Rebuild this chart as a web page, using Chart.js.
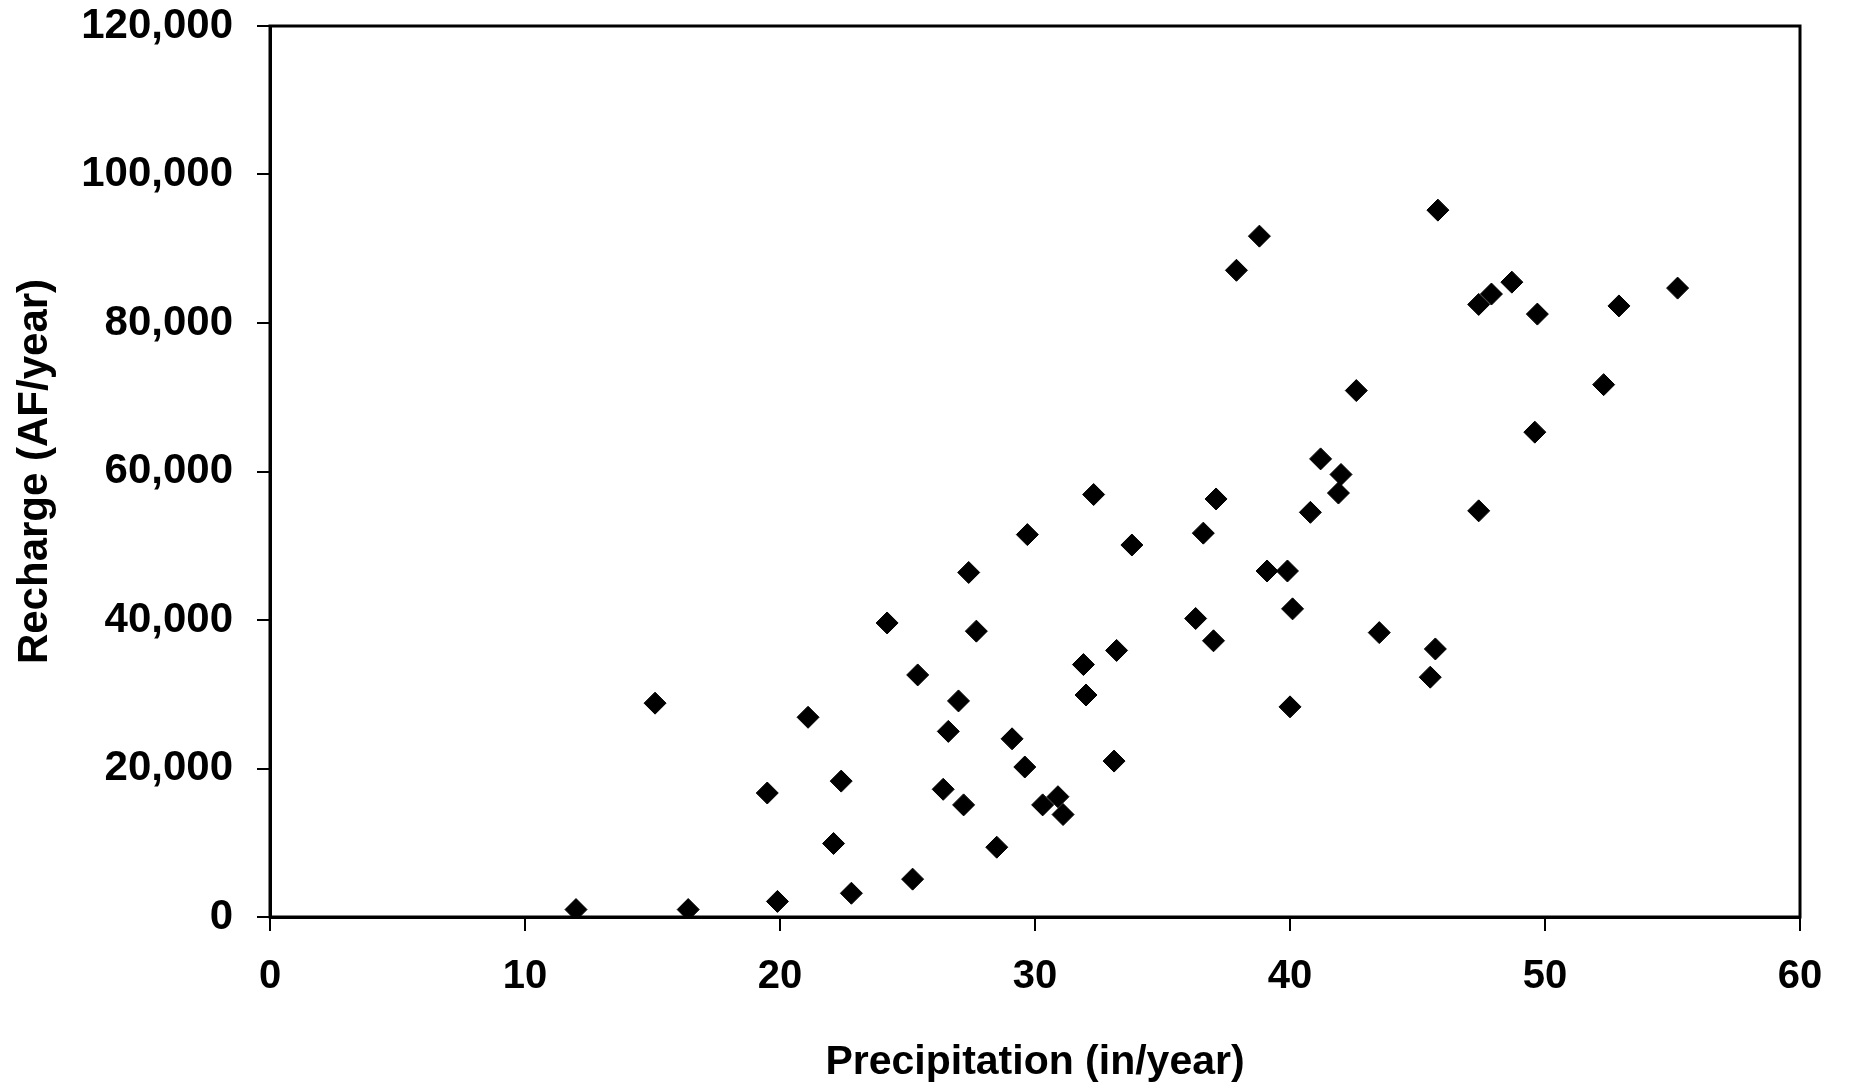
<!DOCTYPE html>
<html lang="en">
<head>
    <meta charset="UTF-8">
    <title>Recharge vs Precipitation</title>
    <script src="https://cdn.jsdelivr.net/npm/chart.js"></script>
    <style>
        html, body { margin: 0; padding: 0; background: #fff; }
        .chart { width: 1850px; height: 1091px; }
    </style>
</head>
<body>
    <div class="chart">
        <canvas id="chart1"></canvas>
    </div>

    <script>
        // precipitation (in/year) and recharge (AF/year)
        const precipitation = [
            12.0, 16.4, 19.9, 15.1, 19.5, 21.1, 22.1, 22.4, 22.8, 24.2,
            25.2, 25.4, 26.4, 26.6, 27.0, 27.2, 27.4, 27.7, 28.5, 29.1,
            29.6, 29.7, 30.3, 30.9, 31.1, 31.9, 32.0, 32.3, 33.1, 33.2,
            33.8, 36.3, 36.6, 37.0, 37.1, 37.9, 38.8, 39.1, 39.9, 40.0,
            40.1, 40.8, 41.2, 41.9, 42.0, 42.6, 43.5, 45.5, 45.7, 45.8,
            47.4, 47.4, 47.9, 48.7, 49.7, 49.6, 52.3, 52.9, 55.2
        ];
        const recharge = [
            1000, 1000, 2100, 28800, 16700, 26900, 9900, 18300, 3200, 39600,
            5100, 32600, 17200, 25000, 29100, 15100, 46400, 38500, 9400, 24000,
            20200, 51500, 15100, 16200, 13800, 34000, 29900, 56900, 21000, 35900,
            50100, 40200, 51700, 37200, 56300, 87100, 91700, 46600, 46600, 28300,
            41500, 54500, 61700, 57100, 59600, 70900, 38300, 32300, 36100, 95200,
            54700, 82500, 83900, 85500, 81200, 65300, 71700, 82300, 84700
        ];
        const xTicks = [0, 10, 20, 30, 40, 50, 60];
        const yTicks = [0, 20000, 40000, 60000, 80000, 100000, 120000];

        const points = precipitation.map((p, i) => ({ x: p, y: recharge[i] }));

        // box around the plot area (top and right sides)
        const frame = {
            id: 'frame',
            afterDatasetsDraw(chart) {
                const a = chart.chartArea;
                const ctx = chart.ctx;
                ctx.save();
                ctx.strokeStyle = '#000';
                ctx.lineWidth = 3;
                ctx.strokeRect(a.left, a.top, a.right - a.left, a.bottom - a.top);
                ctx.restore();
            }
        };

        new Chart(document.getElementById('chart1'), {
            type: 'scatter',
            data: {
                datasets: [{
                    label: 'Recharge',
                    data: points,
                    pointStyle: 'rectRot',
                    pointRadius: 11,
                    pointHoverRadius: 11,
                    backgroundColor: '#000',
                    borderColor: '#000',
                    borderWidth: 1
                }]
            },
            options: {
                responsive: true,
                maintainAspectRatio: false,
                animation: false,
                layout: { padding: { top: 26, right: 50, left: 0, bottom: 0 } },
                plugins: {
                    legend: { display: false },
                    tooltip: { enabled: false }
                },
                scales: {
                    x: {
                        type: 'linear',
                        min: 0,
                        max: 60,
                        afterBuildTicks: s => { s.ticks = xTicks.map(v => ({ value: v })); },
                        afterFit: s => { s.height = 174; },
                        grid: {
                            drawOnChartArea: false,
                            drawTicks: true,
                            tickLength: 14,
                            color: '#000',
                            lineWidth: 2
                        },
                        border: { display: true, color: '#000', width: 3 },
                        ticks: {
                            color: '#000',
                            padding: 22,
                            maxRotation: 0,
                            font: { family: "'Liberation Sans Narrow', 'Liberation Sans', Arial", size: 40, weight: 'bold' }
                        },
                        title: {
                            display: true,
                            text: 'Precipitation (in/year)',
                            color: '#000',
                            padding: { top: 4, bottom: 4 },
                            font: { family: "'Liberation Sans', Arial", size: 41, weight: 'bold' }
                        }
                    },
                    y: {
                        type: 'linear',
                        min: 0,
                        max: 120000,
                        afterBuildTicks: s => { s.ticks = yTicks.map(v => ({ value: v })); },
                        afterFit: s => {
                            s.width = 270;
                            s.paddingTop = 0;
                            s.paddingBottom = 0;
                        },
                        grid: {
                            drawOnChartArea: false,
                            drawTicks: true,
                            tickLength: 13,
                            color: '#000',
                            lineWidth: 2
                        },
                        border: { display: true, color: '#000', width: 3 },
                        ticks: {
                            color: '#000',
                            padding: 24,
                            callback: v => v.toLocaleString('en-US'),
                            font: { family: "'Liberation Sans', Arial", size: 42, weight: 'bold' }
                        },
                        title: {
                            display: true,
                            text: 'Recharge (AF/year)',
                            color: '#000',
                            padding: { top: 10, bottom: 10 },
                            font: { family: "'Liberation Sans', Arial", size: 42, weight: 'bold' }
                        }
                    }
                }
            },
            plugins: [frame]
        });
    </script>
</body>
</html>
